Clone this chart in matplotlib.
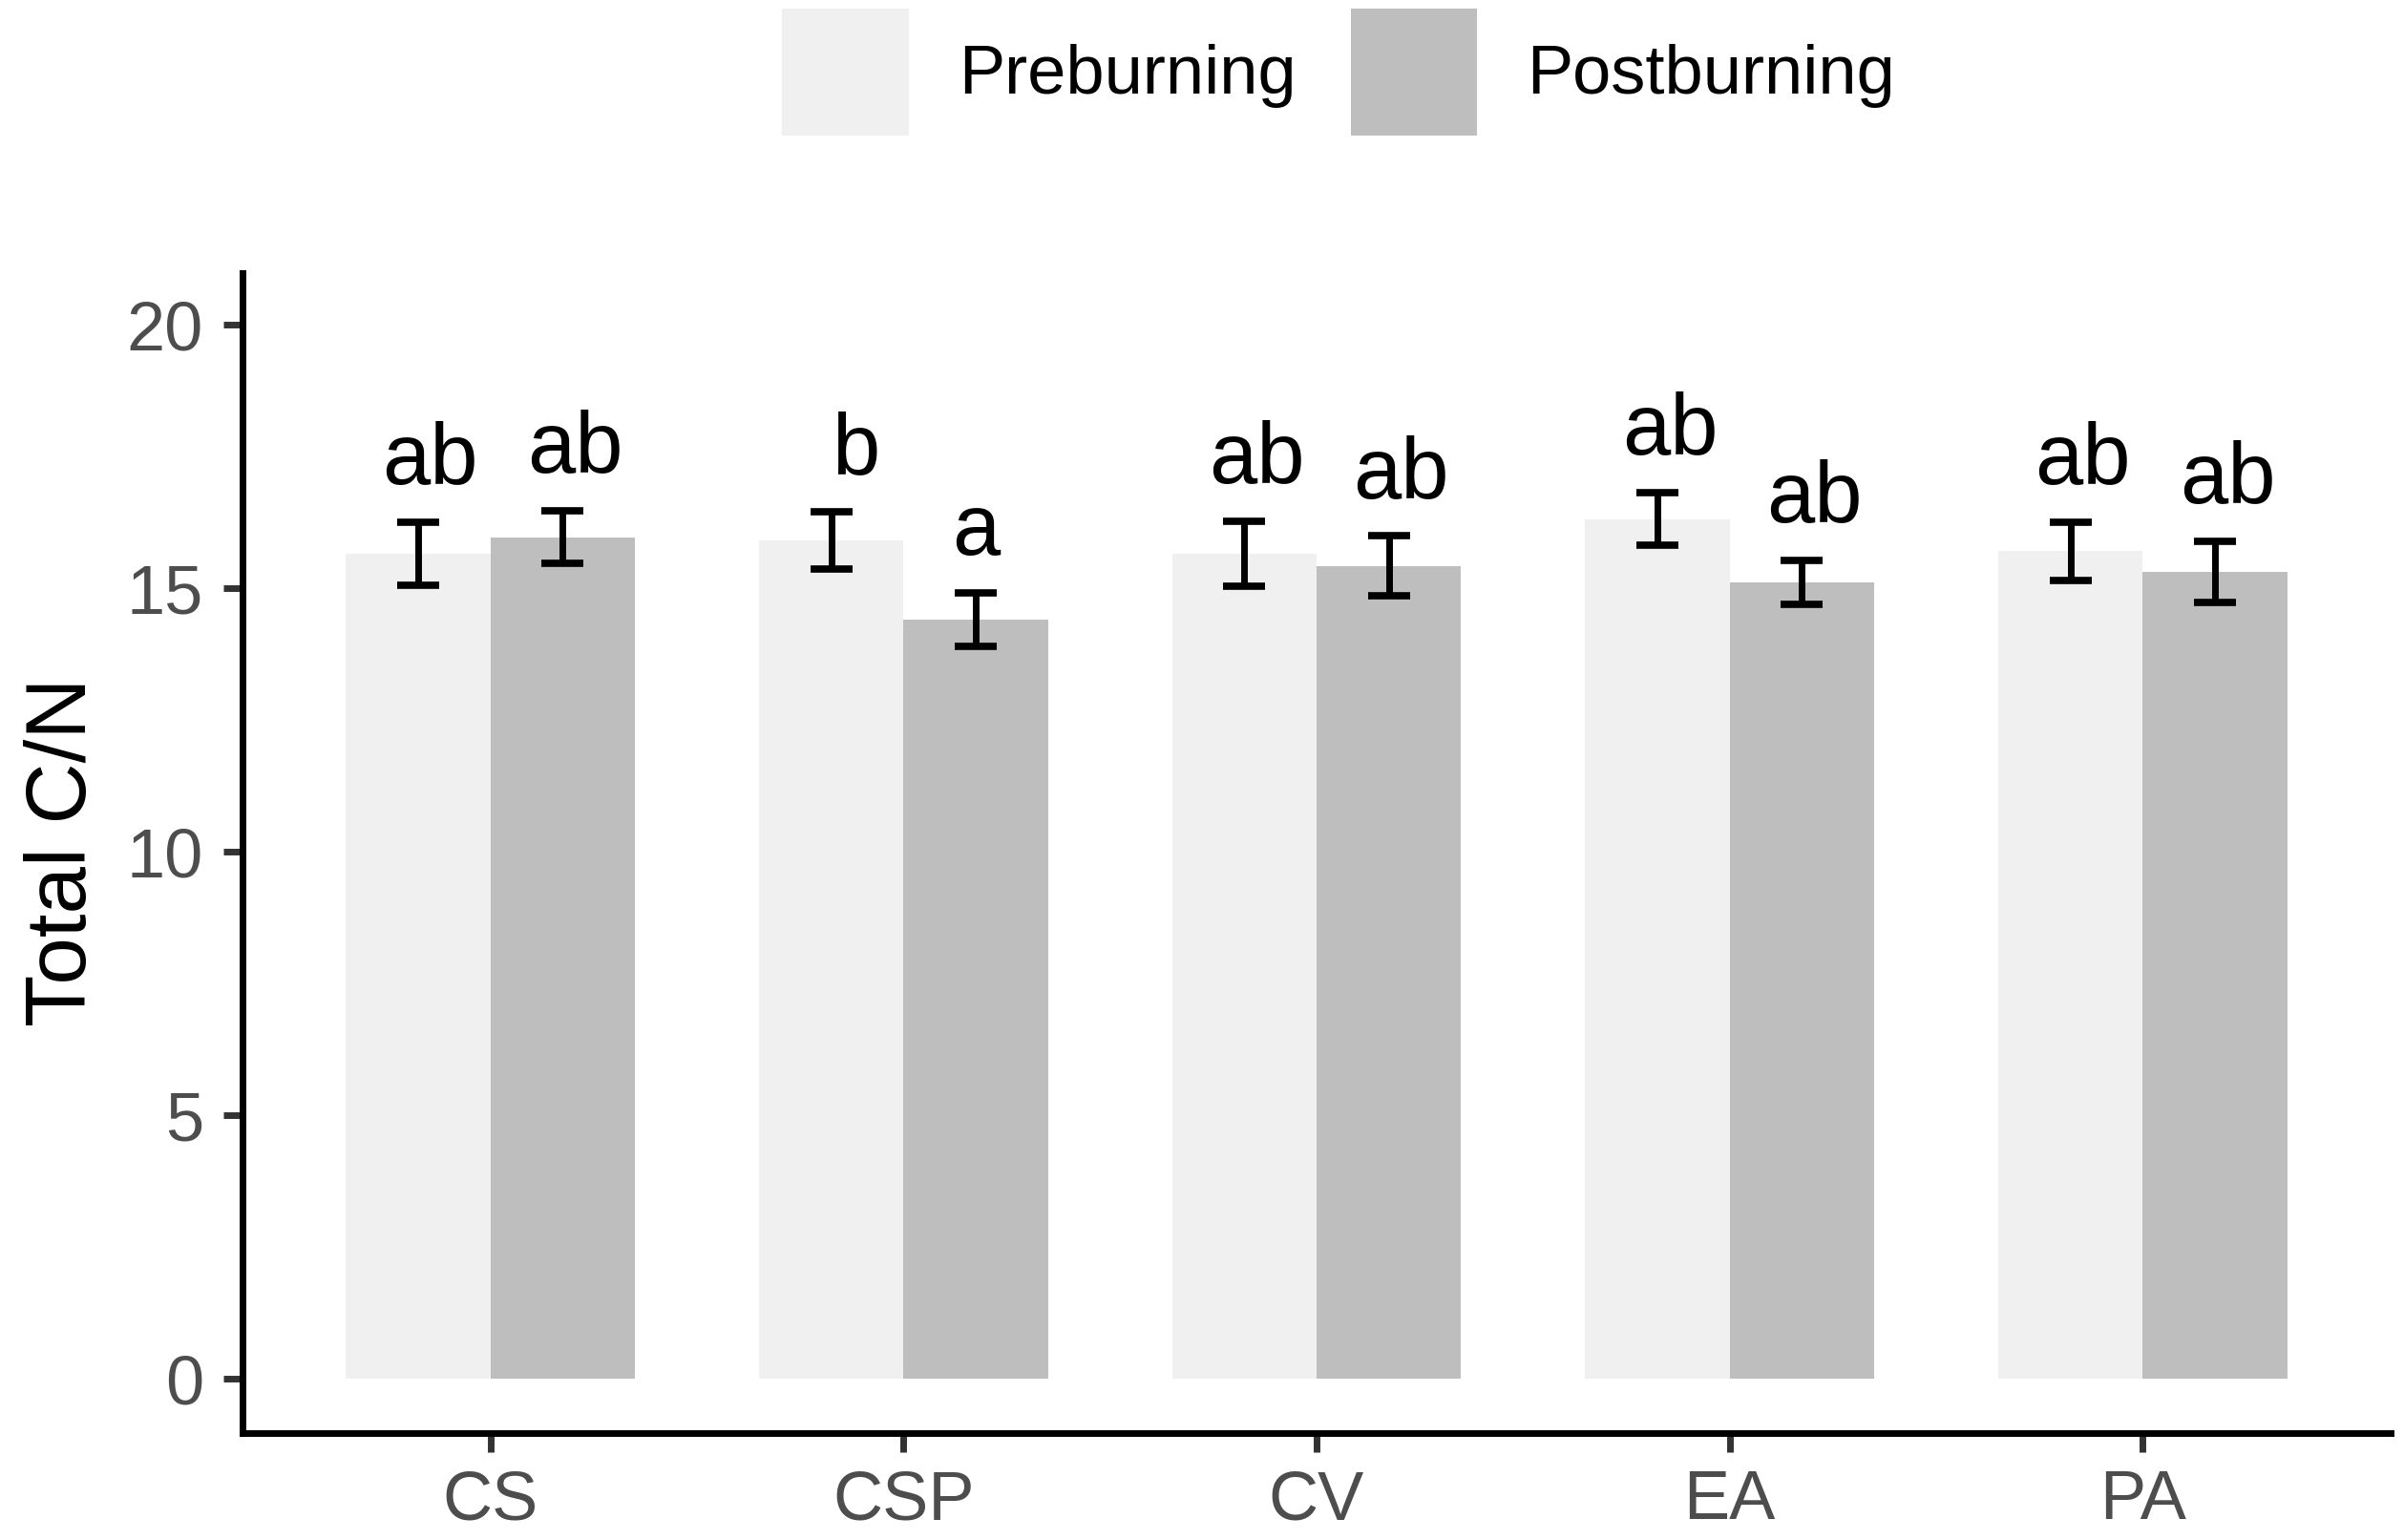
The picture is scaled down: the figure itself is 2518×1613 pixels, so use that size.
import numpy as np
import matplotlib
matplotlib.use("Agg")
import matplotlib.pyplot as plt

# ---- data ----
categories = ["CS", "CSP", "CV", "EA", "PA"]
series_names = ["Preburning", "Postburning"]
pre_means = [15.65, 15.91, 15.65, 16.31, 15.70]
pre_se = [0.60, 0.54, 0.62, 0.50, 0.56]
post_means = [15.97, 14.41, 15.42, 15.11, 15.31]
post_se = [0.50, 0.51, 0.57, 0.42, 0.58]
pre_letters = ["ab", "b", "ab", "ab", "ab"]
post_letters = ["ab", "a", "ab", "ab", "ab"]
y_ticks = [0, 5, 10, 15, 20]

plt.rcParams['font.family'] = ['Liberation Sans', 'DejaVu Sans']

W, H, DPI = 2518, 1613, 100
fig = plt.figure(figsize=(W / DPI, H / DPI), dpi=DPI)
ax = fig.add_axes([254 / W, 1 - 1501 / H, (2504 - 254) / W, (1501 - 286) / H])

x = np.arange(len(categories))
bw = 0.35
col_pre = "#F0F0F0"
col_post = "#BEBEBE"

b1 = ax.bar(x - bw / 2, pre_means, width=bw, color=col_pre, label=series_names[0], zorder=1)
b2 = ax.bar(x + bw / 2, post_means, width=bw, color=col_post, label=series_names[1], zorder=1)

for off, m, s in [(-bw / 2, pre_means, pre_se), (bw / 2, post_means, post_se)]:
    ax.errorbar(x + off, m, yerr=s, fmt='none', ecolor='black', elinewidth=5,
                capsize=15.5, capthick=5.5, zorder=3)

# horizontal nudge of the letter labels, as in the original figure
nudge = {"ab": 0.03, "b": 0.06, "a": 0.0}
for off, m, s, lab in [(-bw / 2, pre_means, pre_se, pre_letters),
                       (bw / 2, post_means, post_se, post_letters)]:
    for xi, mi, si, li in zip(x + off, m, s, lab):
        ax.text(xi + nudge.get(li, 0.0), mi + si + 0.72, li, ha='center', va='baseline',
                fontsize=65, color='black', zorder=4)

ax.set_xlim(-0.6, 4.6)
ax.set_ylim(-1.03, 20.98)
ax.set_xticks(x)
ax.set_xticklabels(categories)
ax.set_yticks(y_ticks)
ax.set_yticklabels([str(t) for t in y_ticks])

for side in ['top', 'right']:
    ax.spines[side].set_visible(False)
for side in ['left', 'bottom']:
    ax.spines[side].set_linewidth(5)
    ax.spines[side].set_color('black')
    ax.spines[side].set_capstyle('projecting')

ax.tick_params(axis='both', length=14.5, width=5, color='#333333',
               labelsize=52, labelcolor='#4D4D4D')
ax.tick_params(axis='y', pad=15)
ax.tick_params(axis='x', pad=13)

fig.text(25 / W, 1 - 892 / H, "Total C/N", rotation=90, ha='left', va='center',
         fontsize=64, color='black')

fs_leg = 52
ax.legend(handles=[b1, b2], labels=series_names, loc='upper left',
          bbox_to_anchor=(819 / W, 1 - 9 / H), bbox_transform=fig.transFigure,
          ncol=2, frameon=False, fontsize=fs_leg, borderpad=0, borderaxespad=0,
          handlelength=1.84, handleheight=2.46, handletextpad=0.72,
          columnspacing=0.79)

fig.savefig("out.png", dpi=DPI, facecolor='white')
